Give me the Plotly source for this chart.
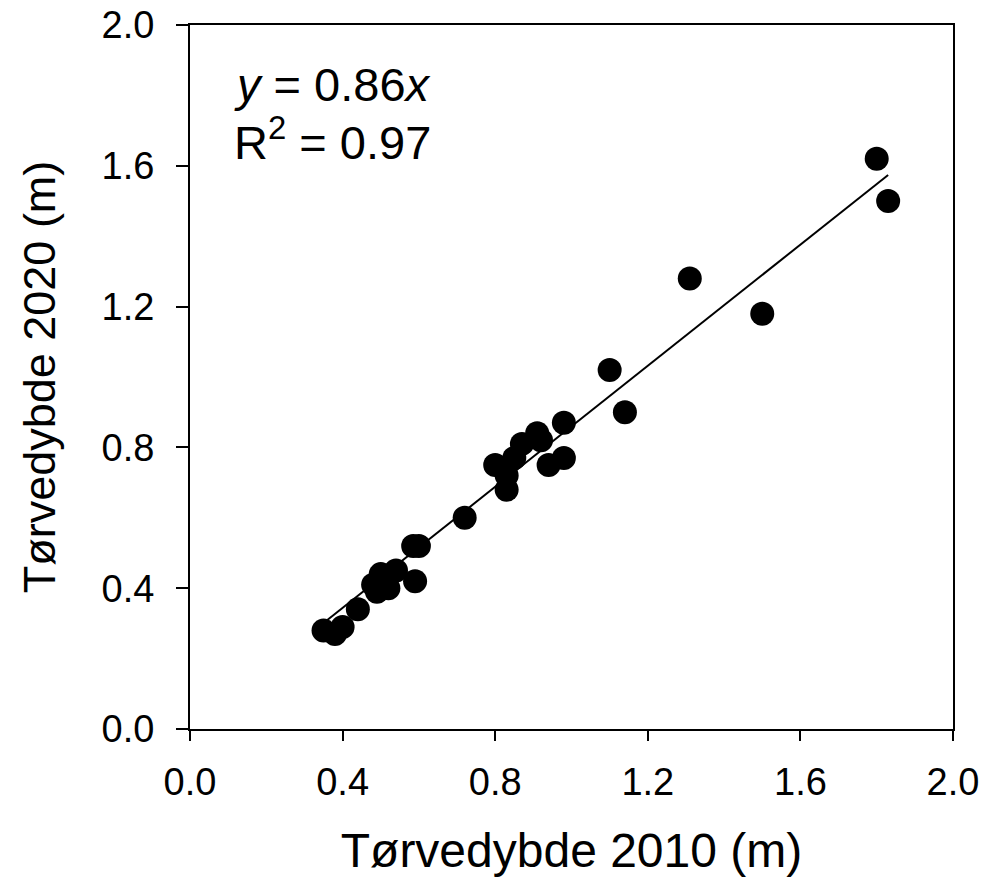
import plotly.graph_objects as go

# Data
depth_2010 = [0.35, 0.38, 0.40, 0.44, 0.48, 0.49, 0.50, 0.52, 0.54, 0.585, 0.60, 0.59,
              0.72, 0.80, 0.83, 0.83, 0.85, 0.87, 0.91, 0.92, 0.94, 0.98, 0.98,
              1.10, 1.14, 1.31, 1.50, 1.80, 1.83]
depth_2020 = [0.28, 0.27, 0.29, 0.34, 0.41, 0.39, 0.44, 0.40, 0.45, 0.52, 0.52, 0.42,
              0.60, 0.75, 0.72, 0.68, 0.77, 0.81, 0.84, 0.82, 0.75, 0.77, 0.87,
              1.02, 0.90, 1.28, 1.18, 1.62, 1.50]
slope = 0.86
r_squared = 0.97
tick_vals = [0.0, 0.4, 0.8, 1.2, 1.6, 2.0]
tick_text = ["0.0", "0.4", "0.8", "1.2", "1.6", "2.0"]

x_min, x_max = min(depth_2010), max(depth_2010)
fit_x = [x_min, x_max]
fit_y = [slope * v for v in fit_x]

FONT = "Liberation Sans, Arial, sans-serif"

fig = go.Figure()
fig.add_trace(go.Scatter(x=fit_x, y=fit_y, mode="lines",
                         line=dict(color="black", width=2), showlegend=False,
                         hoverinfo="skip"))
fig.add_trace(go.Scatter(x=depth_2010, y=depth_2020, mode="markers",
                         marker=dict(color="black", size=24, line=dict(width=0)),
                         showlegend=False))

axis_common = dict(
    range=[0, 2.0], tickvals=tick_vals, ticktext=tick_text,
    showgrid=False, zeroline=False, showline=True, linecolor="black",
    linewidth=2, mirror=True, ticks="outside", tickcolor="black",
    tickwidth=2, tickfont=dict(family=FONT, size=38, color="black"),
    ticklabeloverflow="allow", automargin=False,
)

fig.update_xaxes(**axis_common, ticklen=10, ticklabelstandoff=8,
                 title=dict(text="Tørvedybde 2010 (m)",
                            font=dict(family=FONT, size=48, color="black"),
                            standoff=32))
fig.update_yaxes(**axis_common, ticklen=12, ticklabelstandoff=14,
                 title=dict(text="Tørvedybde 2020 (m)",
                            font=dict(family=FONT, size=45, color="black"),
                            standoff=32))

fig.add_annotation(x=0.11, y=1.83, xref="x", yref="y", xanchor="left",
                   yanchor="middle", showarrow=False,
                   text=f"<i>y</i> = {slope:.2f}<i>x</i>",
                   font=dict(family=FONT, size=47, color="black"))
fig.add_annotation(x=0.11, y=1.675, xref="x", yref="y", xanchor="left",
                   yanchor="middle", showarrow=False,
                   text=f"R<sup>2</sup> = {r_squared:.2f}",
                   font=dict(family=FONT, size=47, color="black"))

fig.update_layout(
    width=995, height=880,
    margin=dict(l=190, r=42, t=25, b=151),
    paper_bgcolor="white", plot_bgcolor="white",
    font=dict(family=FONT, color="black"),
)

fig.write_html("out.html",
               config={"displayModeBar": False},
               post_script="document.body.style.margin='0';document.body.style.overflow='hidden';")
